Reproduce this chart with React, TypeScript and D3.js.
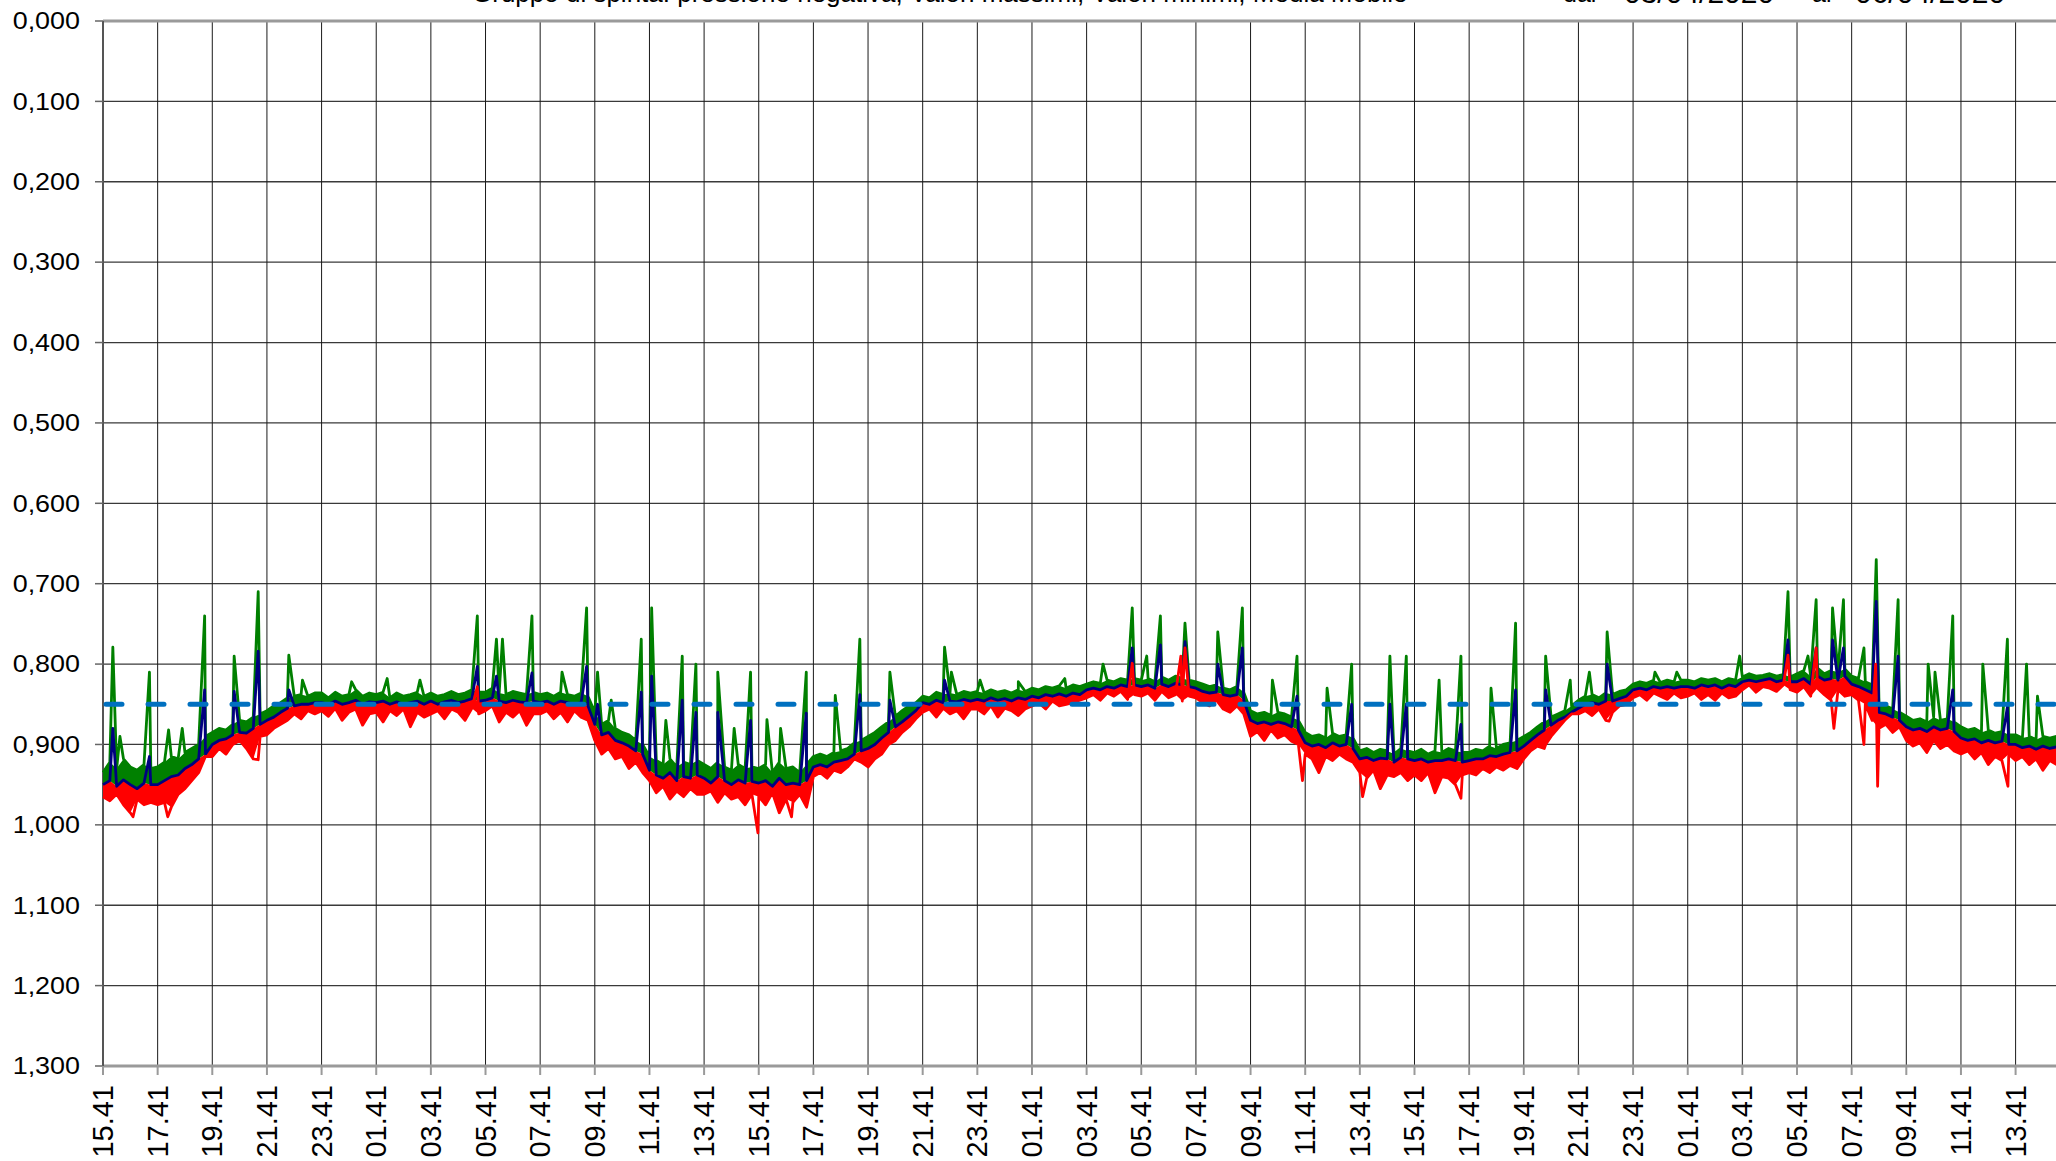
import React, { useEffect, useRef } from 'react';
import * as d3 from 'd3';

const W = 2056;
const H = 1161;

// readings every 15 minutes, counted from 15:41 of 03/04/2020; values in thousandths
const STEP_H = 0.25;

const titleText = 'Gruppo di spinta: pressione negativa, Valori massimi, Valori minimi, Media Mobile';
const dateFrom = '03/04/2020';
const dateTo = '06/04/2020';

const yTicks = [0, 0.1, 0.2, 0.3, 0.4, 0.5, 0.6, 0.7, 0.8, 0.9, 1.0, 1.1, 1.2, 1.3];
const xTickHours = d3.range(0, 71, 2);
const xTickLabels = [
  '15.41', '17.41', '19.41', '21.41', '23.41', '01.41', '03.41', '05.41', '07.41', '09.41', '11.41', '13.41',
  '15.41', '17.41', '19.41', '21.41', '23.41', '01.41', '03.41', '05.41', '07.41', '09.41', '11.41', '13.41',
  '15.41', '17.41', '19.41', '21.41', '23.41', '01.41', '03.41', '05.41', '07.41', '09.41', '11.41', '13.41',
];
const setpoint = 0.85;

const greenBase = [
  935, 922, 930, 918, 928, 932, 925, 930,
  928, 922, 915, 918, 910, 905, 900, 890,
  885, 880, 882, 875, 870, 872, 866, 862,
  858, 852, 848, 842, 840, 838, 840, 836,
  836, 842, 835, 840, 838, 832, 840, 836,
  838, 835, 842, 836, 840, 838, 835, 840,
  836, 840, 838, 834, 838, 836, 832, 835,
  835, 830, 836, 838, 834, 836, 838, 835,
  838, 836, 840, 835, 838, 840, 836, 840,
  860, 875, 870, 880, 885, 888, 895, 900,
  915, 920, 925, 918, 928, 922, 925, 920,
  925, 930, 922, 928, 932, 925, 930, 928,
  930, 925, 935, 922, 930, 928, 935, 925,
  915, 912, 915, 910, 908, 905, 898, 895,
  890, 885, 878, 872, 865, 858, 852, 848,
  840, 842, 835, 838, 836, 838, 834, 836,
  834, 836, 832, 835, 833, 836, 832, 834,
  830, 832, 828, 830, 827, 830, 826, 828,
  825, 822, 824, 820, 822, 818, 820, 818,
  820, 818, 822, 816, 820, 815, 818, 820,
  822, 825, 828, 826, 830, 832, 828, 835,
  858, 862, 860, 864, 860, 862, 866, 870,
  885, 890, 888, 892, 886, 890, 888, 892,
  908, 905, 910, 906, 908, 912, 905, 908,
  910, 906, 912, 908, 910, 905, 908, 910,
  910, 906, 908, 902, 905, 900, 898, 895,
  890, 885, 878, 872, 866, 862, 858, 852,
  845, 840, 838, 842, 836, 838, 834, 832,
  825, 822, 824, 820, 823, 820, 822, 820,
  820, 822, 818, 820, 818, 822, 818, 820,
  816, 812, 815, 814, 812, 815, 813, 816,
  812, 808, 815, 805, 812, 808, 810, 806,
  815, 818, 822, 826, 848, 852, 856, 860,
  865, 870, 868, 872, 866, 870, 868, 872,
  878, 882, 880, 885, 882, 886, 884, 888,
  888, 892, 890, 894, 890, 892, 890,
];

const navyBase = [
  950, 945, 952, 944, 950, 955, 948, 950,
  950, 945, 940, 938, 930, 925, 918, 912,
  900, 895, 893, 888, 885, 886, 880, 875,
  870, 866, 860, 855, 852, 850, 850, 848,
  848, 850, 846, 850, 848, 845, 850, 847,
  848, 846, 850, 847, 850, 848, 846, 850,
  846, 850, 847, 845, 848, 846, 843, 846,
  845, 842, 846, 848, 845, 847, 848, 846,
  848, 846, 850, 846, 848, 850, 848, 852,
  875, 888, 885, 895, 898, 902, 908, 912,
  932, 938, 942, 935, 945, 940, 942, 938,
  942, 948, 940, 945, 950, 944, 948, 946,
  948, 945, 952, 942, 950, 948, 950, 945,
  928, 925, 928, 922, 920, 918, 912, 908,
  905, 900, 892, 885, 878, 872, 865, 858,
  848, 850, 845, 848, 846, 847, 844, 846,
  844, 846, 842, 845, 843, 846, 842, 844,
  840, 842, 838, 840, 837, 840, 836, 838,
  832, 830, 832, 828, 830, 826, 828, 826,
  828, 826, 830, 825, 828, 824, 826, 828,
  830, 834, 836, 835, 838, 840, 838, 845,
  870, 874, 872, 875, 872, 874, 878, 882,
  898, 902, 900, 904, 898, 902, 900, 905,
  918, 916, 920, 917, 918, 922, 916, 918,
  920, 918, 922, 920, 920, 918, 920, 922,
  920, 918, 918, 914, 915, 912, 910, 908,
  902, 895, 888, 882, 876, 870, 866, 860,
  855, 850, 848, 850, 846, 846, 843, 840,
  832, 830, 832, 828, 830, 828, 830, 828,
  828, 830, 826, 828, 826, 830, 826, 828,
  822, 820, 822, 820, 818, 822, 820, 822,
  822, 818, 825, 815, 820, 818, 820, 815,
  825, 828, 832, 836, 860, 862, 866, 870,
  878, 882, 880, 884, 878, 882, 880, 884,
  892, 895, 893, 898, 895, 898, 896, 900,
  900, 904, 902, 906, 902, 905, 903,
];

const redBase = [
  965, 970, 962, 975, 985, 968, 975, 972,
  975, 972, 978, 962, 955, 945, 935, 915,
  915, 905, 912, 900, 895, 905, 918, 890,
  888, 880, 875, 870, 862, 868, 858, 862,
  858, 865, 855, 870, 860, 856, 876, 862,
  860, 872, 858, 864, 856, 878, 860, 866,
  862, 858, 868, 856, 860, 870, 855, 862,
  858, 852, 872, 860, 866, 858, 876, 862,
  862, 858, 868, 860, 872, 858, 866, 870,
  895, 912, 905, 918, 915, 930, 922, 935,
  945, 960, 952, 968, 958, 965, 955, 962,
  962, 958, 972, 960, 968, 965, 975, 962,
  965, 975, 960, 985, 968, 972, 962, 978,
  940, 935, 942, 932, 935, 928, 918, 922,
  928, 918, 912, 900, 895, 885, 878, 868,
  860, 856, 866, 855, 862, 858, 868, 856,
  856, 862, 852, 866, 855, 858, 864, 856,
  852, 848, 856, 846, 852, 850, 848, 845,
  842, 838, 845, 836, 840, 834, 844, 838,
  840, 836, 845, 834, 842, 838, 846, 840,
  842, 848, 852, 845, 856, 860, 852, 862,
  890, 884, 895, 882, 892, 888, 896, 900,
  912, 918, 935, 915, 920, 912, 918, 922,
  935, 942, 932, 955, 938, 940, 935, 945,
  938, 945, 935, 960, 940, 942, 950, 938,
  935, 938, 930, 935, 928, 932, 926, 930,
  918, 908, 902, 905, 890, 880, 870, 862,
  862, 858, 864, 856, 870, 860, 852, 850,
  842, 838, 845, 836, 840, 844, 836, 842,
  840, 836, 844, 838, 845, 836, 842, 840,
  832, 826, 835, 828, 830, 834, 826, 832,
  835, 828, 840, 830, 838, 845, 832, 840,
  838, 845, 850, 870, 880, 875, 885, 878,
  895, 902, 898, 910, 895, 905, 900, 908,
  912, 908, 918, 910, 925, 915, 920, 912,
  920, 915, 925, 918, 932, 920, 925,
];

// short-lived readings between the 15-minute samples: [hours, thousandths]
const greenSpikes = [
  [0.36, 779], [0.62, 890], [1.7, 810], [2.4, 882], [2.9, 880], [3.72, 740], [4.8, 790], [5.68, 710],
  [6.8, 789], [7.3, 820], [9.1, 822], [10.4, 818], [11.6, 820], [13.7, 740], [14.4, 769], [14.62, 769],
  [15.7, 740], [16.8, 810], [17.7, 730], [18.1, 810], [18.6, 845], [19.7, 769], [20.08, 730], [20.6, 870],
  [21.2, 790], [21.7, 800], [22.5, 810], [23.1, 880], [23.7, 810], [24.3, 869], [24.8, 880], [25.74, 810],
  [26.8, 839], [27.7, 769], [28.8, 810], [30.8, 779], [31.05, 810], [32.1, 820], [33.5, 822], [35.2, 818],
  [36.6, 800], [37.67, 730], [38.2, 790], [38.7, 740], [39.6, 749], [40.8, 760], [41.7, 730], [42.8, 820],
  [43.7, 790], [44.8, 830], [45.7, 800], [47.1, 790], [47.7, 790], [48.9, 820], [49.7, 790], [50.8, 830],
  [51.7, 749], [52.8, 790], [53.7, 820], [54.4, 810], [55.05, 760], [56.8, 810], [57.6, 810], [59.9, 790],
  [61.67, 710], [62.4, 790], [62.7, 720], [63.3, 730], [63.7, 720], [64.45, 780], [64.9, 670], [65.7, 720],
  [66.8, 800], [67.05, 810], [67.7, 740], [68.8, 800], [69.7, 769], [70.4, 800], [70.8, 840],
];

const navySpikes = [
  [0.36, 880], [1.7, 915], [3.72, 832], [4.8, 834], [5.68, 784], [6.8, 832], [13.7, 803], [14.4, 815],
  [15.7, 811], [17.7, 803], [18.1, 850], [19.7, 835], [20.08, 815], [21.2, 845], [21.7, 860], [22.5, 860],
  [23.7, 870], [25.74, 861], [27.7, 838], [28.8, 845], [30.8, 820], [37.67, 780], [38.7, 776], [39.6, 772],
  [40.8, 800], [41.7, 780], [43.7, 840], [45.7, 850], [47.1, 850], [47.7, 850], [49.7, 875], [51.7, 832],
  [52.8, 832], [55.05, 800], [61.67, 770], [62.7, 780], [63.3, 770], [63.7, 780], [64.9, 722], [65.7, 790],
  [67.7, 832], [69.7, 853],
];

const redSpikes = [
  [1.1, 990], [2.37, 990], [5.68, 919], [13.7, 828], [23.97, 1010], [25.2, 990], [37.67, 799], [39.45, 790],
  [39.6, 780], [43.9, 945], [46.1, 965], [49.7, 967], [52.8, 900], [55.12, 871], [61.67, 789], [62.7, 780],
  [63.35, 880], [64.45, 900], [64.88, 800], [64.95, 952], [69.72, 952],
];

const toPoints = (base: number[], spikes: number[][]) =>
  base
    .map((v, i) => ({ t: i * STEP_H, v: v / 1000 }))
    .concat(spikes.map(([t, v]) => ({ t, v: v / 1000 })))
    .sort((a, b) => a.t - b.t);

const App = () => {
  const svgRef = useRef<SVGSVGElement>(null);

  useEffect(() => {
    const svg = d3.select(svgRef.current);
    svg.selectAll('*').remove();

    const x = d3.scaleLinear().domain([0, 70]).range([103, 2015.6]);
    const y = d3.scaleLinear().domain([0, 1.3]).range([21, 1066]);
    const xEnd = W;
    const font = 'Liberation Sans, Arial, sans-serif';

    // title, mostly cut off by the top of the picture
    const title = svg.append('g').attr('font-family', font).attr('fill', '#000');
    title.append('text').attr('x', 472).attr('y', 1.5).attr('font-size', 26).text(titleText);
    title.append('text').attr('x', 1563).attr('y', 1.5).attr('font-size', 25).text('dal');
    title.append('text').attr('x', 1624).attr('y', 2.5).attr('font-size', 30).text(dateFrom);
    title.append('text').attr('x', 1812).attr('y', 1.5).attr('font-size', 25).text('al');
    title.append('text').attr('x', 1855).attr('y', 2.5).attr('font-size', 30).text(dateTo);

    // horizontal grid
    svg.append('g')
      .selectAll('line')
      .data(yTicks.slice(1, -1))
      .join('line')
      .attr('x1', x(0)).attr('x2', xEnd)
      .attr('y1', (d) => y(d)).attr('y2', (d) => y(d))
      .attr('stroke', '#3a3a3a').attr('stroke-width', 1.3);

    // vertical grid
    svg.append('g')
      .selectAll('line')
      .data(xTickHours.slice(1))
      .join('line')
      .attr('x1', (d) => x(d)).attr('x2', (d) => x(d))
      .attr('y1', y(0)).attr('y2', y(1.3))
      .attr('stroke', '#1a1a1a').attr('stroke-width', 1);

    // frame
    svg.append('line').attr('x1', x(0)).attr('x2', xEnd).attr('y1', y(0)).attr('y2', y(0))
      .attr('stroke', '#9a9a9a').attr('stroke-width', 3);
    svg.append('line').attr('x1', x(0)).attr('x2', xEnd).attr('y1', y(1.3)).attr('y2', y(1.3))
      .attr('stroke', '#9a9a9a').attr('stroke-width', 3);
    svg.append('line').attr('x1', x(0)).attr('x2', x(0)).attr('y1', y(0)).attr('y2', y(1.3))
      .attr('stroke', '#555').attr('stroke-width', 2);

    // y axis ticks and labels
    const yAxis = svg.append('g');
    yAxis.selectAll('line')
      .data(yTicks)
      .join('line')
      .attr('x1', x(0) - 8).attr('x2', x(0))
      .attr('y1', (d) => y(d)).attr('y2', (d) => y(d))
      .attr('stroke', '#666').attr('stroke-width', 1.5);
    yAxis.selectAll('text')
      .data(yTicks)
      .join('text')
      .attr('transform', (d) => `translate(80,${y(d)}) scale(1.17,1)`)
      .attr('text-anchor', 'end')
      .attr('dominant-baseline', 'central')
      .attr('font-family', font)
      .attr('font-size', 23)
      .attr('fill', '#000')
      .text((d) => d.toFixed(3).replace('.', ','));

    // x axis ticks and labels
    const xAxis = svg.append('g');
    xAxis.selectAll('line')
      .data(xTickHours)
      .join('line')
      .attr('x1', (d) => x(d)).attr('x2', (d) => x(d))
      .attr('y1', y(1.3)).attr('y2', y(1.3) + 9)
      .attr('stroke', '#9a9a9a').attr('stroke-width', 2);
    xAxis.selectAll('text')
      .data(xTickHours)
      .join('text')
      .attr('transform', (d) => `translate(${x(d)},1085) rotate(-90)`)
      .attr('text-anchor', 'end')
      .attr('dominant-baseline', 'central')
      .attr('font-family', font)
      .attr('font-size', 29)
      .attr('fill', '#000')
      .text((d, i) => xTickLabels[i]);

    // the minute-by-minute jitter fills the space between the three curves
    const bandArea = (upper: number[], lower: number[]) =>
      d3.area<number>()
        .x((d, i) => x(i * STEP_H))
        .y0((d, i) => y(upper[i] / 1000))
        .y1((d, i) => y(lower[i] / 1000))(upper);

    const bands = svg.append('g');
    bands.append('path').attr('d', bandArea(greenBase, navyBase)).attr('fill', '#008000');
    bands.append('path').attr('d', bandArea(navyBase, redBase)).attr('fill', '#FF0000');

    // series
    const line = d3.line<{ t: number; v: number }>()
      .x((d) => x(d.t))
      .y((d) => y(d.v));

    const series = [
      { pts: toPoints(greenBase, greenSpikes), color: '#008000' },
      { pts: toPoints(navyBase, navySpikes), color: '#000080' },
      { pts: toPoints(redBase, redSpikes), color: '#FF0000' },
    ];
    svg.append('g')
      .selectAll('path')
      .data(series)
      .join('path')
      .attr('d', (d) => line(d.pts))
      .attr('fill', 'none')
      .attr('stroke', (d) => d.color)
      .attr('stroke-width', 2.8)
      .attr('stroke-linejoin', 'round');

    // setpoint
    svg.append('path')
      .attr('d', line([{ t: 0, v: setpoint }, { t: x.invert(xEnd), v: setpoint }]))
      .attr('fill', 'none')
      .attr('stroke', '#0070C0')
      .attr('stroke-width', 5)
      .attr('stroke-linecap', 'round')
      .attr('stroke-dasharray', '16 26')
      .attr('stroke-dashoffset', -3);
  }, []);

  return (
    <svg
      ref={svgRef}
      width={W}
      height={H}
      style={{ position: 'absolute', left: 0, top: 0, background: '#fff' }}
    />
  );
};

export default App;
